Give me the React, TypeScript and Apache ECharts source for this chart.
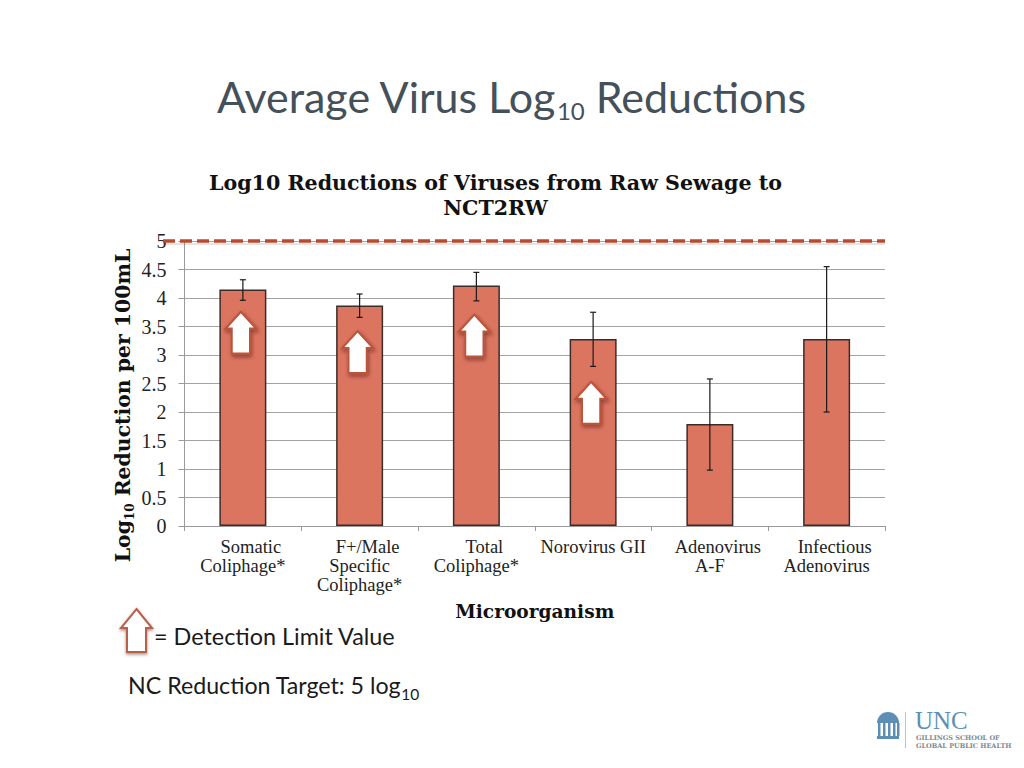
import React, { useEffect, useRef } from "react";
import * as echarts from "echarts";

const categories = ["Somatic\nColiphage*", "F+/Male\nSpecific\nColiphage*", "Total\nColiphage*", "Norovirus GII", "Adenovirus\nA-F", "Infectious\nAdenovirus"];
const averages = [4.15, 3.87, 4.22, 3.28, 1.79, 3.28];
const errorLow = [3.96, 3.66, 3.95, 2.8, 0.98, 2.0];
const errorHigh = [4.32, 4.07, 4.45, 3.75, 2.58, 4.55];
const detectionLimitMarkers = [[0, 3.39], [1, 3.05], [2, 3.34], [3, 2.16]];
const targetValue = 5;

const SERIF = "'Liberation Serif', serif";
const BOLD_SERIF = "'DejaVu Serif', serif";
const SANS = "Lato, 'Noto Sans', sans-serif";
const ARROW = "path://M15.5 0 L31 17 L24.5 17 L24.5 42 L6.5 42 L6.5 17 L0 17 Z";

export default function App() {
  const ref = useRef<HTMLDivElement>(null);
  useEffect(() => {
    document.body.style.margin = "0";
    const chart = echarts.init(ref.current!, undefined, { renderer: "svg" });
    const option: any = {
      animation: false,
      backgroundColor: "#ffffff",
      title: {
        text: "Log10 Reductions of Viruses from Raw Sewage to\nNCT2RW",
        left: 490.5,
        top: 165,
        textAlign: "center",
        textStyle: { fontFamily: BOLD_SERIF, fontWeight: "bold", fontSize: 20.6, lineHeight: 25, color: "#111111" },
      },
      grid: { left: 184.5, right: 139, top: 241, bottom: 242 },
      xAxis: {
        type: "category",
        data: categories,
        name: "Microorganism",
        nameLocation: "middle",
        nameGap: 76,
        nameTextStyle: { fontFamily: BOLD_SERIF, fontWeight: "bold", fontSize: 18.6, color: "#111111" },
        axisLine: { lineStyle: { color: "#9a9a9a", width: 1 } },
        axisTick: { show: true, alignWithLabel: false, length: 5, lineStyle: { color: "#9a9a9a" } },
        axisLabel: {
          interval: 0,
          margin: 11,
          lineHeight: 19,
          color: "#222222",
          fontFamily: SERIF,
          fontSize: 18.5,
          formatter: (v: string) => {
            const lines = v.split("\n");
            if (lines.length < 2) return `{n|${v}}`;
            return lines.map((l, i) => (i === 0 ? `{s|${l}}` : `{n|${l}}`)).join("\n");
          },
          rich: {
            s: { fontFamily: SERIF, fontSize: 18.5, lineHeight: 19, color: "#222222", padding: [0, 0, 0, 16] },
            n: { fontFamily: SERIF, fontSize: 18.5, lineHeight: 19, color: "#222222" },
          },
        },
      },
      yAxis: {
        type: "value",
        min: 0,
        max: 5,
        interval: 0.5,
        name: "{m|Log}{u|10}{m| Reduction per 100mL}",
        nameLocation: "middle",
        nameGap: 49,
        nameMoveOverlap: false,
        nameTextStyle: {
          padding: [0, 44, 0, 0],
          rich: {
            m: { fontFamily: BOLD_SERIF, fontWeight: "bold", fontSize: 20.4, lineHeight: 26, color: "#111111" },
            u: { fontFamily: BOLD_SERIF, fontWeight: "bold", fontSize: 12, lineHeight: 12, color: "#111111", verticalAlign: "bottom" },
          },
        },
        axisLine: { show: true, lineStyle: { color: "#9a9a9a", width: 1 } },
        axisTick: { show: true, length: 6, lineStyle: { color: "#9a9a9a" } },
        splitLine: { show: true, lineStyle: { color: "#a3a3a3", width: 1 } },
        axisLabel: { margin: 18, color: "#222222", fontFamily: SERIF, fontSize: 20 },
      },
      series: [
        {
          type: "bar",
          data: averages,
          barWidth: 47,
          z: 2,
          itemStyle: { color: "#dc7560", borderColor: "#3d2b28", borderWidth: 1.5 },
        },
        {
          type: "custom",
          z: 3,
          encode: { x: 0, y: [1, 2] },
          data: averages.map((_, i) => [i, errorLow[i], errorHigh[i]]),
          renderItem: (_: any, api: any) => {
            const low = api.coord([api.value(0), api.value(1)]);
            const high = api.coord([api.value(0), api.value(2)]);
            const style = { stroke: "#1a1a1a", lineWidth: 1.2 };
            const line = (x1: number, y1: number, x2: number, y2: number) => ({ type: "line", shape: { x1, y1, x2, y2 }, style });
            return {
              type: "group",
              children: [
                line(low[0], low[1], high[0], high[1]),
                line(low[0] - 3, low[1], low[0] + 3, low[1]),
                line(high[0] - 3, high[1], high[0] + 3, high[1]),
              ],
            };
          },
        },
        {
          type: "scatter",
          z: 4,
          data: detectionLimitMarkers,
          symbol: ARROW,
          symbolSize: [31, 42],
          symbolOffset: [-2, 0],
          silent: true,
          itemStyle: {
            color: "#ffffff",
            opacity: 1,
            borderColor: "#bd5238",
            borderWidth: 2,
            shadowBlur: 4,
            shadowColor: "rgba(60,20,10,0.55)",
            shadowOffsetX: 1,
            shadowOffsetY: 2,
          },
        },
      ],
    };
    chart.setOption(option);

    const targetY = chart.convertToPixel({ yAxisIndex: 0 }, targetValue) as number;
    const blue = "#5d8fb5";
    const wellColumn = (x: number) => ({ type: "rect", shape: { x, y: 723, width: 2.5, height: 13 }, style: { fill: blue } });
    chart.setOption({
      graphic: [
        {
          type: "text", left: 217, top: 75,
          style: {
            text: "{m|Average Virus Log}{s|10}{m| Reductions}",
            rich: {
              m: { fontFamily: SANS, fontSize: 43, lineHeight: 52, fill: "#44505a" },
              s: { fontFamily: SANS, fontSize: 24, lineHeight: 20, fill: "#44505a", verticalAlign: "bottom" },
            },
          },
        },
        {
          type: "line", z: 9,
          shape: { x1: 163, y1: targetY + 3, x2: 885, y2: targetY + 3 },
          style: { stroke: "rgba(90,90,90,0.16)", lineWidth: 2 },
        },
        {
          type: "line", z: 10,
          shape: { x1: 163, y1: targetY, x2: 885, y2: targetY },
          style: { stroke: "#b9492f", lineWidth: 3.5, lineDash: [12, 5] },
        },
        {
          type: "polygon", z: 10,
          shape: { points: [[136.5, 609], [152, 628], [146, 628], [146, 652], [127, 652], [127, 628], [121, 628]] },
          style: {
            fill: "#ffffff", stroke: "#b9604c", lineWidth: 2,
            shadowBlur: 3, shadowColor: "rgba(60,20,10,0.5)", shadowOffsetY: 1.5,
          },
        },
        {
          type: "text", left: 154, top: 624,
          style: { text: "= Detection Limit Value", fontFamily: SANS, fontSize: 23.4, fill: "#1a1a1a" },
        },
        {
          type: "text", left: 128, top: 673,
          style: {
            text: "{m|NC Reduction Target: 5 log}{s|10}",
            rich: {
              m: { fontFamily: SANS, fontSize: 23.2, lineHeight: 34, fill: "#1a1a1a" },
              s: { fontFamily: SANS, fontSize: 15.5, lineHeight: 18, fill: "#1a1a1a", verticalAlign: "bottom" },
            },
          },
        },
        { type: "sector", shape: { cx: 888, cy: 723, r: 11, r0: 0, startAngle: Math.PI, endAngle: 2 * Math.PI }, style: { fill: blue } },
        wellColumn(878), wellColumn(883), wellColumn(888), wellColumn(893), wellColumn(897),
        { type: "rect", shape: { x: 877, y: 736, width: 22, height: 3 }, style: { fill: blue } },
        { type: "line", shape: { x1: 905.5, y1: 712, x2: 905.5, y2: 748 }, style: { stroke: "#b8c4cc", lineWidth: 1 } },
        {
          type: "text", left: 915, top: 708,
          style: { text: "UNC", fontFamily: SERIF, fontSize: 25, fill: blue },
        },
        {
          type: "text", left: 916, top: 734,
          style: { text: "GILLINGS SCHOOL OF\nGLOBAL PUBLIC HEALTH", fontFamily: BOLD_SERIF, fontWeight: "bold", fontSize: 6.5, lineHeight: 8, fill: "#7d8a92" },
        },
      ],
    });
    return () => chart.dispose();
  }, []);
  return <div ref={ref} style={{ position: "absolute", left: 0, top: 0, width: 1024, height: 768 }} />;
}
